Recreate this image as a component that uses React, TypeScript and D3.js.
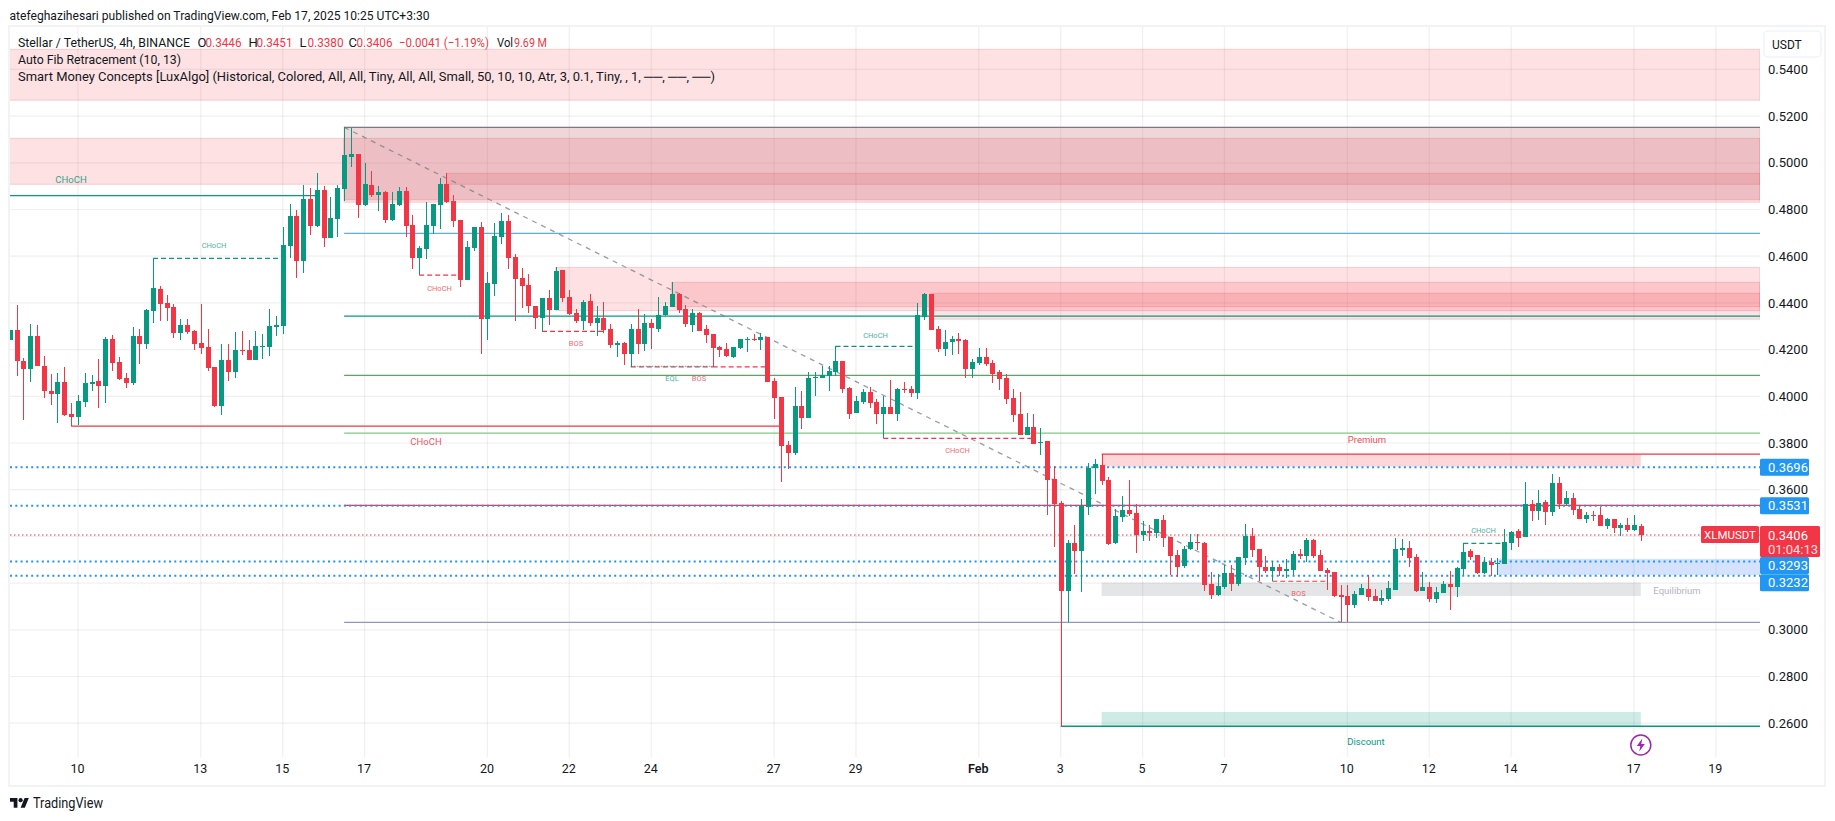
import React, { useRef, useEffect } from "react";
import * as d3 from "d3";

// XLMUSDT 4h candles, one entry per bar
const opens = [
  0.4242, 0.4285, 0.4152, 0.4118, 0.4259, 0.4131, 0.4023, 0.4011, 0.4062, 0.3925,
  0.3912, 0.3976, 0.4054, 0.4066, 0.4045, 0.4246, 0.4148, 0.4079, 0.4058, 0.4259,
  0.4225, 0.4366, 0.4460, 0.4400, 0.4383, 0.4272, 0.4306, 0.4280, 0.4229, 0.4212,
  0.4126, 0.3959, 0.4156, 0.4105, 0.4199, 0.4199, 0.4156, 0.4212, 0.4212, 0.4298,
  0.4302, 0.4644, 0.4773, 0.4580, 0.4845, 0.4730, 0.4884, 0.4678, 0.4760, 0.4888,
  0.5025, 0.5038, 0.4819, 0.4905, 0.4863, 0.4875, 0.4756, 0.4820, 0.4880, 0.4734,
  0.4593, 0.4631, 0.4730, 0.4820, 0.4910, 0.4837, 0.4756, 0.4499, 0.4636, 0.4726,
  0.4332, 0.4482, 0.4684, 0.4751, 0.4597, 0.4507, 0.4477, 0.4387, 0.4335, 0.4421,
  0.4370, 0.4541, 0.4425, 0.4357, 0.4323, 0.4408, 0.4314, 0.4335, 0.4288, 0.4220,
  0.4228, 0.4181, 0.4288, 0.4224, 0.4314, 0.4288, 0.4348, 0.4383, 0.4438, 0.4374,
  0.4306, 0.4357, 0.4288, 0.4267, 0.4211, 0.4203, 0.4169, 0.4207, 0.4241, 0.4246,
  0.4241, 0.4254, 0.4066, 0.3997, 0.3792, 0.3758, 0.3959, 0.3907, 0.4079, 0.4079,
  0.4087, 0.4104, 0.4151, 0.4036, 0.3929, 0.3976, 0.4019, 0.3976, 0.3925, 0.3955,
  0.3925, 0.4032, 0.4032, 0.4014, 0.4340, 0.4438, 0.4288, 0.4203, 0.4233, 0.4246,
  0.4241, 0.4117, 0.4143, 0.4168, 0.4143, 0.4104, 0.4079, 0.3993, 0.3925, 0.3835,
  0.3869, 0.3798, 0.3809, 0.3646, 0.3542, 0.3167, 0.3372, 0.3338, 0.3526, 0.3693,
  0.3706, 0.3642, 0.3373, 0.3484, 0.3514, 0.3501, 0.3406, 0.3424, 0.3415, 0.3471,
  0.3398, 0.3321, 0.3274, 0.3346, 0.3376, 0.3372, 0.3196, 0.3149, 0.3184, 0.3243,
  0.3196, 0.3308, 0.3402, 0.3346, 0.3269, 0.3252, 0.3269, 0.3252, 0.3256, 0.3325,
  0.3316, 0.3385, 0.3320, 0.3256, 0.3248, 0.3149, 0.3145, 0.3106, 0.3149, 0.3175,
  0.3145, 0.3124, 0.3132, 0.3171, 0.3342, 0.3350, 0.3312, 0.3166, 0.3184, 0.3132,
  0.3158, 0.3196, 0.3184, 0.3260, 0.3338, 0.3320, 0.3243, 0.3290, 0.3281, 0.3282,
  0.3372, 0.3423, 0.3398, 0.3539, 0.3509, 0.3547, 0.3505, 0.3629, 0.3539, 0.3565,
  0.3517, 0.3475, 0.3492, 0.3492, 0.3445, 0.3475, 0.3436, 0.3449, 0.3428, 0.3446,
];
const highs = [
  0.4285, 0.4392, 0.4163, 0.4310, 0.4306, 0.4173, 0.4096, 0.4101, 0.4126, 0.3972,
  0.4006, 0.4101, 0.4092, 0.4160, 0.4256, 0.4263, 0.4170, 0.4099, 0.4297, 0.4289,
  0.4375, 0.4591, 0.4473, 0.4434, 0.4396, 0.4332, 0.4332, 0.4285, 0.4396, 0.4289,
  0.4126, 0.4225, 0.4225, 0.4276, 0.4280, 0.4242, 0.4280, 0.4267, 0.4375, 0.4345,
  0.4724, 0.4824, 0.4798, 0.4905, 0.4893, 0.4957, 0.4901, 0.4854, 0.4905, 0.5152,
  0.5148, 0.5038, 0.5000, 0.4965, 0.4901, 0.4880, 0.4875, 0.4897, 0.4897, 0.4777,
  0.4644, 0.4833, 0.4824, 0.4935, 0.4957, 0.4863, 0.4756, 0.4666, 0.4726, 0.4747,
  0.4533, 0.4743, 0.4787, 0.4777, 0.4610, 0.4550, 0.4524, 0.4387, 0.4421, 0.4455,
  0.4554, 0.4541, 0.4455, 0.4374, 0.4413, 0.4438, 0.4387, 0.4404, 0.4310, 0.4237,
  0.4233, 0.4310, 0.4374, 0.4353, 0.4331, 0.4425, 0.4404, 0.4490, 0.4443, 0.4391,
  0.4374, 0.4361, 0.4306, 0.4267, 0.4216, 0.4228, 0.4211, 0.4246, 0.4254, 0.4267,
  0.4271, 0.4254, 0.4079, 0.3997, 0.3809, 0.4040, 0.4023, 0.4104, 0.4104, 0.4130,
  0.4130, 0.4214, 0.4151, 0.4040, 0.4002, 0.4032, 0.4040, 0.3989, 0.4002, 0.4070,
  0.4036, 0.4062, 0.4044, 0.4400, 0.4443, 0.4438, 0.4301, 0.4284, 0.4259, 0.4271,
  0.4246, 0.4160, 0.4207, 0.4207, 0.4156, 0.4113, 0.4096, 0.4032, 0.4019, 0.3929,
  0.3925, 0.3864, 0.3809, 0.3702, 0.3552, 0.3385, 0.3449, 0.3561, 0.3715, 0.3732,
  0.3752, 0.3655, 0.3518, 0.3573, 0.3642, 0.3539, 0.3466, 0.3449, 0.3475, 0.3492,
  0.3398, 0.3342, 0.3359, 0.3411, 0.3411, 0.3376, 0.3248, 0.3239, 0.3278, 0.3278,
  0.3312, 0.3453, 0.3436, 0.3346, 0.3316, 0.3295, 0.3282, 0.3303, 0.3338, 0.3346,
  0.3393, 0.3389, 0.3342, 0.3265, 0.3248, 0.3192, 0.3192, 0.3166, 0.3196, 0.3235,
  0.3175, 0.3171, 0.3209, 0.3393, 0.3389, 0.3380, 0.3325, 0.3248, 0.3205, 0.3184,
  0.3209, 0.3252, 0.3269, 0.3372, 0.3346, 0.3320, 0.3312, 0.3308, 0.3308, 0.3432,
  0.3423, 0.3432, 0.3633, 0.3556, 0.3599, 0.3556, 0.3667, 0.3655, 0.3595, 0.3586,
  0.3535, 0.3505, 0.3509, 0.3526, 0.3479, 0.3475, 0.3457, 0.3479, 0.3492, 0.3451,
];
const lows = [
  0.4242, 0.4085, 0.3899, 0.4063, 0.4128, 0.3991, 0.3964, 0.3886, 0.3914, 0.3872,
  0.3878, 0.3956, 0.4023, 0.3951, 0.3972, 0.4109, 0.4071, 0.4036, 0.4049, 0.4139,
  0.4203, 0.4315, 0.4323, 0.4323, 0.4250, 0.4242, 0.4267, 0.4199, 0.4182, 0.4109,
  0.3955, 0.3921, 0.4066, 0.4079, 0.4178, 0.4156, 0.4156, 0.4160, 0.4173, 0.4259,
  0.4267, 0.4593, 0.4507, 0.4529, 0.4691, 0.4726, 0.4640, 0.4678, 0.4683, 0.4838,
  0.4984, 0.4762, 0.4815, 0.4854, 0.4794, 0.4743, 0.4751, 0.4815, 0.4683, 0.4546,
  0.4519, 0.4589, 0.4696, 0.4717, 0.4828, 0.4726, 0.4469, 0.4499, 0.4623, 0.4182,
  0.4242, 0.4431, 0.4652, 0.4544, 0.4323, 0.4378, 0.4357, 0.4288, 0.4279, 0.4306,
  0.4370, 0.4404, 0.4348, 0.4314, 0.4284, 0.4301, 0.4259, 0.4271, 0.4207, 0.4169,
  0.4134, 0.4126, 0.4181, 0.4194, 0.4203, 0.4276, 0.4344, 0.4383, 0.4357, 0.4297,
  0.4276, 0.4280, 0.4228, 0.4126, 0.4169, 0.4169, 0.4164, 0.4203, 0.4190, 0.4237,
  0.4198, 0.4062, 0.3903, 0.3633, 0.3689, 0.3749, 0.3860, 0.3907, 0.4002, 0.4079,
  0.4023, 0.4087, 0.4014, 0.3903, 0.3929, 0.3967, 0.3950, 0.3882, 0.3820, 0.3925,
  0.3895, 0.4014, 0.3997, 0.3989, 0.4327, 0.4284, 0.4190, 0.4173, 0.4177, 0.4181,
  0.4079, 0.4079, 0.4136, 0.4130, 0.4057, 0.4027, 0.3967, 0.3890, 0.3835, 0.3835,
  0.3796, 0.3749, 0.3492, 0.3355, 0.2587, 0.3033, 0.3240, 0.3162, 0.3492, 0.3582,
  0.3621, 0.3364, 0.3368, 0.3462, 0.3488, 0.3329, 0.3381, 0.3381, 0.3394, 0.3355,
  0.3235, 0.3227, 0.3265, 0.3342, 0.3342, 0.3166, 0.3132, 0.3145, 0.3175, 0.3166,
  0.3188, 0.3278, 0.3312, 0.3209, 0.3243, 0.3209, 0.3231, 0.3222, 0.3235, 0.3303,
  0.3290, 0.3308, 0.3252, 0.3171, 0.3141, 0.3032, 0.3032, 0.3093, 0.3149, 0.3124,
  0.3124, 0.3106, 0.3124, 0.3171, 0.3316, 0.3269, 0.3162, 0.3166, 0.3119, 0.3115,
  0.3158, 0.3085, 0.3141, 0.3235, 0.3299, 0.3239, 0.3239, 0.3231, 0.3235, 0.3282,
  0.3342, 0.3355, 0.3398, 0.3466, 0.3470, 0.3449, 0.3487, 0.3517, 0.3535, 0.3492,
  0.3475, 0.3457, 0.3466, 0.3445, 0.3432, 0.3415, 0.3402, 0.3419, 0.3423, 0.3380,
];
const closes = [
  0.4285, 0.4153, 0.4118, 0.4259, 0.4128, 0.4021, 0.4011, 0.4062, 0.3921, 0.3912,
  0.3981, 0.4058, 0.4062, 0.4045, 0.4246, 0.4143, 0.4075, 0.4058, 0.4259, 0.4225,
  0.4370, 0.4464, 0.4396, 0.4379, 0.4272, 0.4306, 0.4276, 0.4225, 0.4208, 0.4122,
  0.3959, 0.4156, 0.4105, 0.4199, 0.4195, 0.4156, 0.4216, 0.4216, 0.4302, 0.4306,
  0.4648, 0.4773, 0.4580, 0.4845, 0.4730, 0.4884, 0.4678, 0.4764, 0.4893, 0.5033,
  0.5038, 0.4819, 0.4910, 0.4863, 0.4875, 0.4756, 0.4824, 0.4880, 0.4730, 0.4593,
  0.4636, 0.4734, 0.4824, 0.4910, 0.4833, 0.4751, 0.4499, 0.4640, 0.4726, 0.4332,
  0.4486, 0.4687, 0.4751, 0.4594, 0.4502, 0.4473, 0.4387, 0.4335, 0.4421, 0.4370,
  0.4537, 0.4421, 0.4353, 0.4323, 0.4404, 0.4314, 0.4335, 0.4284, 0.4220, 0.4228,
  0.4181, 0.4288, 0.4224, 0.4314, 0.4293, 0.4348, 0.4387, 0.4438, 0.4370, 0.4310,
  0.4357, 0.4280, 0.4263, 0.4207, 0.4198, 0.4173, 0.4211, 0.4246, 0.4246, 0.4241,
  0.4254, 0.4062, 0.3993, 0.3788, 0.3758, 0.3959, 0.3907, 0.4079, 0.4084, 0.4091,
  0.4109, 0.4151, 0.4032, 0.3925, 0.3980, 0.4019, 0.3972, 0.3925, 0.3955, 0.3925,
  0.4032, 0.4027, 0.4014, 0.4348, 0.4438, 0.4284, 0.4203, 0.4233, 0.4246, 0.4237,
  0.4117, 0.4147, 0.4168, 0.4138, 0.4096, 0.4074, 0.3989, 0.3920, 0.3835, 0.3869,
  0.3796, 0.3805, 0.3642, 0.3539, 0.3168, 0.3372, 0.3338, 0.3531, 0.3693, 0.3711,
  0.3638, 0.3368, 0.3488, 0.3514, 0.3496, 0.3406, 0.3424, 0.3415, 0.3475, 0.3394,
  0.3317, 0.3269, 0.3346, 0.3376, 0.3372, 0.3192, 0.3149, 0.3188, 0.3243, 0.3196,
  0.3312, 0.3402, 0.3342, 0.3269, 0.3252, 0.3269, 0.3252, 0.3260, 0.3325, 0.3316,
  0.3385, 0.3316, 0.3252, 0.3243, 0.3145, 0.3141, 0.3106, 0.3153, 0.3179, 0.3141,
  0.3124, 0.3136, 0.3179, 0.3346, 0.3350, 0.3308, 0.3166, 0.3184, 0.3132, 0.3162,
  0.3196, 0.3184, 0.3265, 0.3333, 0.3312, 0.3243, 0.3290, 0.3278, 0.3285, 0.3376,
  0.3419, 0.3393, 0.3539, 0.3509, 0.3543, 0.3505, 0.3629, 0.3539, 0.3565, 0.3513,
  0.3475, 0.3492, 0.3488, 0.3445, 0.3475, 0.3436, 0.3449, 0.3428, 0.3449, 0.3406,
];

// days after Jan 10 for each tick on the time axis
const dayOffsets = [0, 3, 5, 7, 10, 12, 14, 17, 19, 22, 24, 26, 28, 31, 33, 35, 38, 40];
const dayLabels = ["10", "13", "15", "17", "20", "22", "24", "27", "29", "Feb", "3", "5", "7", "10", "12", "14", "17", "19"];
const priceTicks = [0.54, 0.52, 0.5, 0.48, 0.46, 0.44, 0.42, 0.4, 0.38, 0.36, 0.34, 0.32, 0.3, 0.28, 0.26];

// supply zones as [first bar, upper price, lower price]
const redZones: number[][] = [
  [0, 0.5486, 0.5268],
  [49, 0.5152, 0.4841],
  [49, 0.5105, 0.4831],
  [64, 0.4955, 0.4908],
  [80, 0.4552, 0.4367],
  [97, 0.4488, 0.4384],
  [135, 0.4441, 0.433],
];
const leftZone = [0.5105, 0.4908];
const premiumZone = [0.3752, 0.3699];
const equilibriumZone = [0.3202, 0.3145];
const discountZone = [0.2648, 0.2587];
const orderBlock = [0.3304, 0.3235];

const fibLevels = [0.5152, 0.4698, 0.4343, 0.409, 0.3842, 0.3533, 0.3032];
const fibColors = ["#787b86", "#64a8e4", "#089981", "#58a85c", "#81c784", "#f23645", "#8c98c4"];
const horizontalRays = [0.3696, 0.3531, 0.3293, 0.3232];
const rayLabelShift = [0, 0, 4, 7];

// SMC structure breaks: [from bar, to bar, price]
const dashedUp = [[21, 40, 0.4591], [121, 133, 0.4214], [213, 219, 0.337]];
const dashedDown = [[60, 66, 0.4519], [78, 87, 0.4278], [91, 103, 0.4126], [103, 111, 0.4126], [128, 150, 0.382], [185, 193, 0.3208]];

const lastPrice = 0.3406;

function App() {
  const svgRef = useRef<SVGSVGElement>(null);

  useEffect(() => {
    document.body.style.margin = "0";
    const svg = d3.select(svgRef.current);
    svg.selectAll("*").remove();

    const width = 1835;
    const height = 821;
    const paneLeft = 10;
    const paneRight = 1760;
    const paneTop = 27;
    const paneBottom = 757;
    const font = "Roboto, sans-serif";
    const red = "#f23645";
    const green = "#089981";

    const x = d3.scaleLinear().domain([0, 239]).range([9.7, 1640.8]);
    const y = d3.scaleLinear().domain([0.26, 0.54]).range([723.2, 69.4]);

    svg.attr("width", width).attr("height", height).style("font-family", font);

    svg.append("defs").append("clipPath").attr("id", "pane")
      .append("rect").attr("x", paneLeft).attr("y", paneTop)
      .attr("width", paneRight - paneLeft).attr("height", paneBottom - paneTop);

    // Frame
    svg.append("rect").attr("x", 9).attr("y", 26).attr("width", 1816).attr("height", 760)
      .attr("fill", "none").attr("stroke", "#f2f3f5").attr("stroke-width", 2);

    const pane = svg.append("g").attr("clip-path", "url(#pane)");

    // Grid
    const tickBars = dayOffsets.map((d) => 10 + d * 6);
    pane.selectAll("line.vgrid").data(tickBars).join("line").attr("class", "vgrid")
      .attr("x1", (d) => x(d)).attr("x2", (d) => x(d)).attr("y1", paneTop).attr("y2", paneBottom)
      .attr("stroke", "rgba(42,46,57,0.07)").attr("stroke-width", 1.2);
    pane.selectAll("line.hgrid").data(priceTicks).join("line").attr("class", "hgrid")
      .attr("x1", paneLeft).attr("x2", paneRight).attr("y1", (d) => y(d)).attr("y2", (d) => y(d))
      .attr("stroke", "rgba(42,46,57,0.07)").attr("stroke-width", 1.2);

    // Zones
    const zone = (x0: number, x1: number, hi: number, lo: number, fill: string, stroke = "none") =>
      pane.append("rect").attr("x", x0).attr("width", x1 - x0)
        .attr("y", y(hi)).attr("height", y(lo) - y(hi))
        .attr("fill", fill).attr("stroke", stroke);

    const pink = "rgba(242,54,69,0.15)";
    const pinkEdge = "rgba(242,54,69,0.2)";
    zone(paneLeft - 2, x(49), leftZone[0], leftZone[1], pink, pinkEdge);
    redZones.forEach(([bar, hi, lo]) => zone(bar === 0 ? paneLeft - 2 : x(bar), paneRight, hi, lo, pink, pinkEdge));
    zone(x(49), paneRight, 0.5152, 0.4841, "rgba(120,123,134,0.1)");
    zone(x(160), x(239), premiumZone[0], premiumZone[1], "rgba(242,54,69,0.2)");
    zone(x(160), x(239), equilibriumZone[0], equilibriumZone[1], "rgba(120,123,134,0.2)");
    zone(x(160), x(239), discountZone[0], discountZone[1], "rgba(8,153,129,0.2)");
    zone(x(218), paneRight, orderBlock[0], orderBlock[1], "rgba(41,110,245,0.2)");

    const hline = (x0: number, x1: number, p: number, color: string, w = 1.3, dash = "") =>
      pane.append("line").attr("x1", x0).attr("x2", x1).attr("y1", y(p)).attr("y2", y(p))
        .attr("stroke", color).attr("stroke-width", w).attr("stroke-dasharray", dash);

    // Fib levels
    fibLevels.forEach((p, i) => hline(x(49), paneRight, p, fibColors[i]));
    pane.append("line").attr("x1", x(49)).attr("y1", y(0.5152)).attr("x2", x(195)).attr("y2", y(0.3032))
      .attr("stroke", "#787b86").attr("stroke-opacity", 0.75).attr("stroke-width", 1.3).attr("stroke-dasharray", "5 5");

    // Structure lines
    hline(paneLeft, x(45), 0.4859, green);
    hline(x(9), x(113), 0.3872, red);
    hline(x(154), paneRight, 0.2587, green);
    hline(x(160), paneRight, 0.3752, red);
    dashedUp.forEach(([a, b, p]) => hline(x(a), x(b), p, green, 1.2, "5 3"));
    dashedDown.forEach(([a, b, p]) => hline(x(a), x(b), p, red, 1.2, "5 3"));
    hline(x(91), x(103), 0.4128, green, 1.2, "1.5 1.5").attr("opacity", 0.6);

    // Horizontal rays and last price
    horizontalRays.forEach((p) => hline(paneLeft, paneRight, p, "#2196f3", 2, "2 3.3"));
    hline(paneLeft, paneRight, lastPrice, red, 1, "1.5 2.5");

    // Candles
    const candles = pane.append("g").selectAll("g").data(d3.range(closes.length)).join("g")
      .attr("fill", (i) => (closes[i] >= opens[i] ? green : red));
    candles.append("rect").attr("shape-rendering", "crispEdges")
      .attr("x", (i) => Math.round(x(i)))
      .attr("width", 1)
      .attr("y", (i) => Math.round(y(highs[i])))
      .attr("height", (i) => Math.max(1, Math.round(y(lows[i])) - Math.round(y(highs[i]))));
    candles.append("rect").attr("shape-rendering", "crispEdges")
      .attr("x", (i) => Math.round(x(i)) - 2)
      .attr("width", 5)
      .attr("y", (i) => Math.round(y(Math.max(opens[i], closes[i]))))
      .attr("height", (i) => Math.max(1, Math.round(y(Math.min(opens[i], closes[i]))) - Math.round(y(Math.max(opens[i], closes[i])))));

    // Chart labels
    const label = (tx: number, ty: number, text: string, color: string, size = 7.5, opacity = 0.75) =>
      svg.append("text").attr("x", tx).attr("y", ty).attr("text-anchor", "middle")
        .attr("dominant-baseline", "central").attr("fill", color).attr("font-size", size)
        .attr("opacity", opacity).text(text);

    label(71, 179, "CHoCH", green, 9.5, 0.85);
    label(214, 245.5, "CHoCH", green);
    label(426, 441, "CHoCH", red, 9.5, 0.85);
    label(439.5, 288, "CHoCH", red);
    label(576, 343.5, "BOS", red);
    label(672, 378.5, "EQL", green);
    label(699, 378.5, "BOS", red);
    label(875.5, 335, "CHoCH", green);
    label(957.5, 450.5, "CHoCH", red);
    label(1298.5, 593, "BOS", red);
    label(1483.5, 530.5, "CHoCH", green);
    label(1367, 439, "Premium", red, 9.5, 0.9);
    label(1677, 590, "Equilibrium", "#b2b5be", 9.5, 1);
    label(1366, 741, "Discount", green, 9.5, 1);

    // Price axis
    const yAxis = svg.append("g").attr("transform", `translate(${paneRight},0)`)
      .call(d3.axisRight(y).tickValues(priceTicks).tickSize(0).tickPadding(8).tickFormat((d) => d3.format(".4f")(d as number)));
    yAxis.select(".domain").remove();
    yAxis.selectAll("text").attr("fill", "#131722").attr("font-size", 13).attr("font-family", font);

    // Time axis
    const xAxis = svg.append("g").attr("transform", `translate(-1,764)`)
      .call(d3.axisBottom(x).tickValues(tickBars).tickSize(0).tickPadding(0).tickFormat((_, i) => dayLabels[i]));
    xAxis.select(".domain").remove();
    xAxis.selectAll("text").attr("fill", "#131722").attr("font-size", 12.5).attr("font-family", font)
      .attr("font-weight", (_, i) => (dayLabels[i] === "Feb" ? 600 : 400));

    // Axis price tags
    horizontalRays.forEach((p, i) => {
      const cy = y(p) + rayLabelShift[i];
      svg.append("rect").attr("x", 1760).attr("y", cy - 8.5).attr("width", 49).attr("height", 17)
        .attr("rx", 1.5).attr("fill", "#2196f3");
      svg.append("text").attr("x", 1768).attr("y", cy).attr("dominant-baseline", "central")
        .attr("fill", "#fff").attr("font-size", 13).text(d3.format(".4f")(p));
    });
    svg.append("rect").attr("x", 1760).attr("y", 526).attr("width", 60).attr("height", 31)
      .attr("rx", 1.5).attr("fill", red);
    svg.append("text").attr("x", 1768).attr("y", 535).attr("dominant-baseline", "central")
      .attr("fill", "#fff").attr("font-size", 13).text(d3.format(".4f")(lastPrice));
    svg.append("text").attr("x", 1768).attr("y", 549).attr("dominant-baseline", "central")
      .attr("fill", "#fff").attr("font-size", 13).attr("opacity", 0.85).text("01:04:13");
    svg.append("rect").attr("x", 1701).attr("y", 526).attr("width", 58).attr("height", 17)
      .attr("rx", 1.5).attr("fill", red);
    svg.append("text").attr("x", 1730).attr("y", 534.5).attr("dominant-baseline", "central")
      .attr("text-anchor", "middle").attr("fill", "#fff").attr("font-size", 11.5).text("XLMUSDT");

    // Currency button
    svg.append("rect").attr("x", 1764).attr("y", 31).attr("width", 57).attr("height", 26).attr("rx", 4)
      .attr("fill", "#fff").attr("stroke", "#f0f3fa").attr("stroke-width", 1.5);
    svg.append("text").attr("x", 1772).attr("y", 44.5).attr("dominant-baseline", "central")
      .attr("fill", "#131722").attr("font-size", 12).text("USDT");

    // Header and legend
    const line = (tx: number, ty: number, text: string, color = "#131722", len?: number) => {
      const t = svg.append("text").attr("x", tx).attr("y", ty).attr("dominant-baseline", "central")
        .attr("fill", color).attr("font-size", 13).text(text);
      if (len) t.attr("textLength", len).attr("lengthAdjust", "spacingAndGlyphs");
      return t;
    };
    line(9.5, 15, "atefeghazihesari published on TradingView.com, Feb 17, 2025 10:25 UTC+3:30", "#131722", 420);
    line(18, 42, "Stellar / TetherUS, 4h, BINANCE", "#131722", 172);
    const ohlc: [number, string, string][] = [
      [197.5, "O", "0.3446"], [248.5, "H", "0.3451"], [299.5, "L", "0.3380"], [348.5, "C", "0.3406"],
    ];
    ohlc.forEach(([tx, k, v]) => {
      line(tx, 42, k);
      line(tx + 8, 42, v, red, 36);
    });
    line(399, 42, "\u22120.0041 (\u22121.19%)", red, 90);
    line(497, 42, "Vol", "#131722", 16);
    line(514, 42, "9.69 M", red, 33);
    line(18, 59, "Auto Fib Retracement (10, 13)", "#131722", 163);
    line(18, 76, "Smart Money Concepts [LuxAlgo] (Historical, Colored, All, All, Tiny, All, All, Small, 50, 10, 10, Atr, 3, 0.1, Tiny, , 1, \u2500\u2500, \u2500\u2500, \u2500\u2500)", "#131722", 697);

    // News flash icon
    const flash = svg.append("g").attr("transform", `translate(${x(239)},745)`);
    flash.append("circle").attr("r", 10).attr("fill", "#fff").attr("stroke", "#9c27b0").attr("stroke-width", 1.5);
    flash.append("path").attr("d", "M1.5,-6.5 L-4,1 H-0.5 L-1.5,6.5 L4,-1 H0.5 Z").attr("fill", "#9c27b0");

    // TradingView mark
    const logo = svg.append("g").attr("transform", "translate(10,796) scale(0.53)").attr("fill", "#131722");
    logo.append("path").attr("d", "M14 22H7V11H0V4h14v18zM28 22h-8l7.5-18h8L28 22z");
    logo.append("circle").attr("cx", 20).attr("cy", 8).attr("r", 4);
    svg.append("text").attr("x", 33).attr("y", 803).attr("dominant-baseline", "central")
      .attr("fill", "#131722").attr("font-size", 14).attr("font-weight", 400).attr("textLength", 70)
      .attr("lengthAdjust", "spacingAndGlyphs").text("TradingView");
  }, []);

  return <svg ref={svgRef} style={{ position: "absolute", left: 0, top: 0, display: "block" }} />;
}

export default App;
